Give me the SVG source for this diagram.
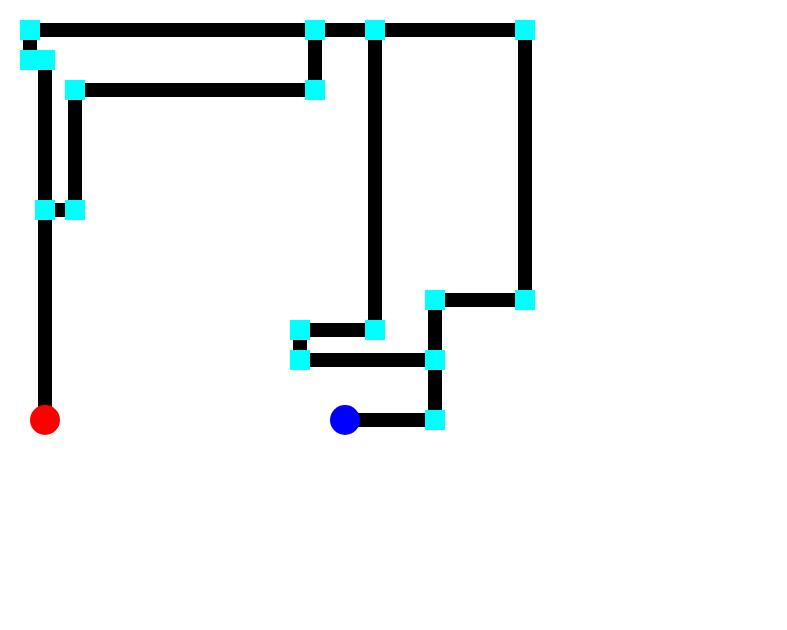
<svg xmlns="http://www.w3.org/2000/svg" width="787" height="630" viewBox="0 0 787 630">
<style>
.seg{stroke:#000;stroke-width:14;fill:none;stroke-linecap:butt}
.wp{fill:#00FFFF}
</style>
<rect width="787" height="630" fill="#fff"/>
<g id="connectors">
<path class="seg" d="M45,420 V60 M45,210 H75 M75,210 V90 H315 V30 M30,30 H525 V300 H435 V420 H345 M30,30 V60 H45 M375,30 V330 H300 V360 H435"/>
</g>
<g id="waypoints">
<rect id="w1" class="wp" x="20" y="20" width="20" height="20"/>
<rect id="w2" class="wp" x="305" y="20" width="20" height="20"/>
<rect id="w3" class="wp" x="365" y="20" width="20" height="20"/>
<rect id="w4" class="wp" x="515" y="20" width="20" height="20"/>
<rect id="w5" class="wp" x="20" y="50" width="20" height="20"/>
<rect id="w6" class="wp" x="35" y="50" width="20" height="20"/>
<rect id="w7" class="wp" x="65" y="80" width="20" height="20"/>
<rect id="w8" class="wp" x="305" y="80" width="20" height="20"/>
<rect id="w9" class="wp" x="35" y="200" width="20" height="20"/>
<rect id="w10" class="wp" x="65" y="200" width="20" height="20"/>
<rect id="w11" class="wp" x="515" y="290" width="20" height="20"/>
<rect id="w12" class="wp" x="425" y="290" width="20" height="20"/>
<rect id="w13" class="wp" x="365" y="320" width="20" height="20"/>
<rect id="w14" class="wp" x="290" y="320" width="20" height="20"/>
<rect id="w15" class="wp" x="290" y="350" width="20" height="20"/>
<rect id="w16" class="wp" x="425" y="350" width="20" height="20"/>
<rect id="w17" class="wp" x="425" y="410" width="20" height="20"/>
</g>
<g id="start"><circle cx="45" cy="420" r="15" fill="#FF0000"/></g>
<g id="end"><circle cx="345" cy="420" r="15" fill="#0000FF"/></g>
</svg>
